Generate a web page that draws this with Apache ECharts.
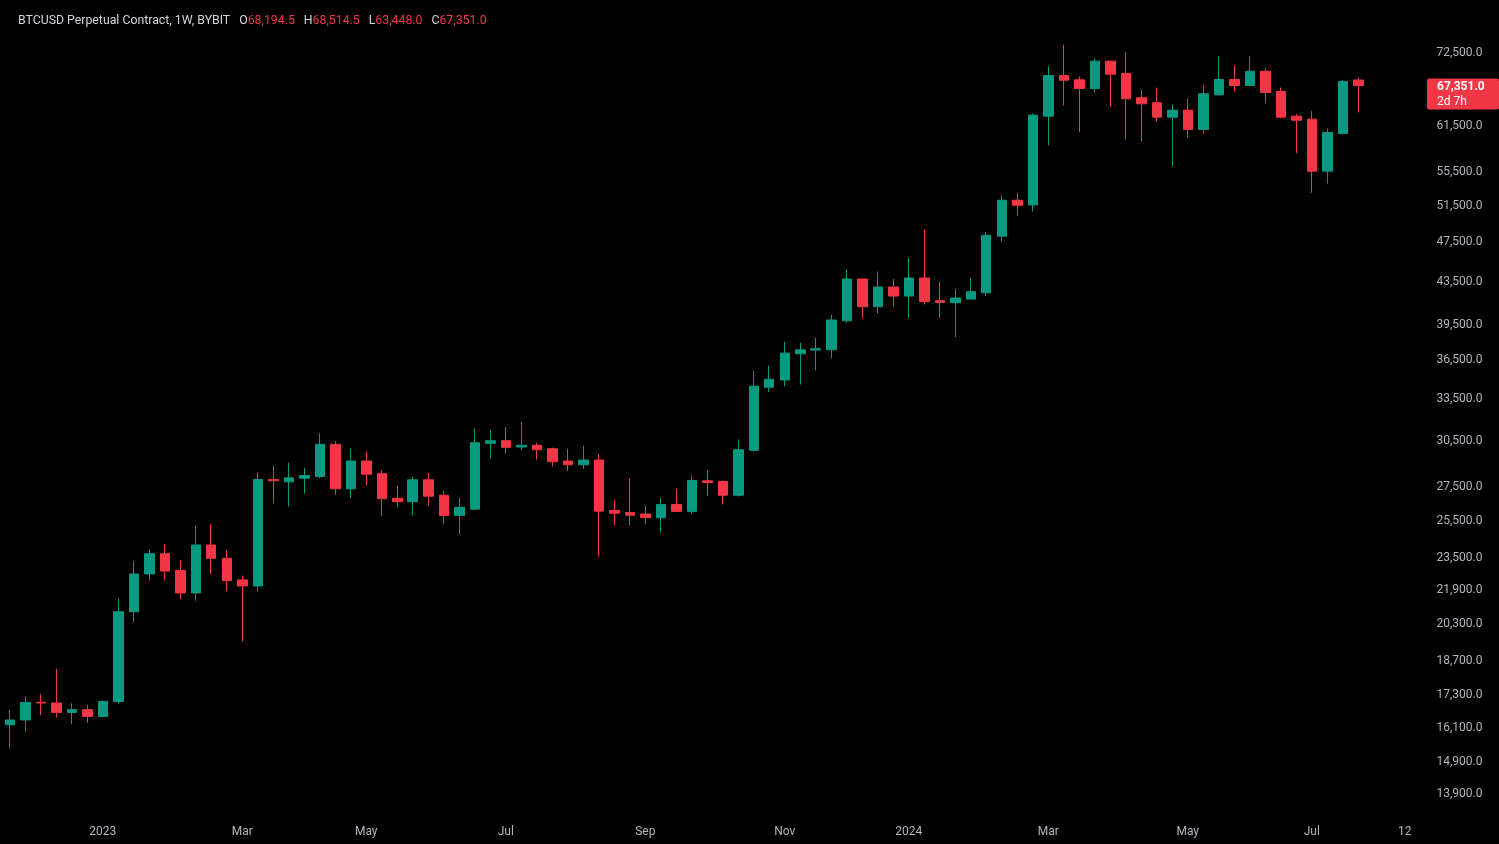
<!DOCTYPE html>
<html><head><meta charset="utf-8">
<script src="https://cdn.jsdelivr.net/npm/echarts@6/dist/echarts.min.js"></script>
<style>html,body{margin:0;padding:0;background:#000;}#c{width:1499px;height:844px;}</style>
</head><body><div id="c"></div>
<script>
const dates = [
'2022-11-21','2022-11-28','2022-12-05','2022-12-12','2022-12-19','2022-12-26',
'2023-01-02','2023-01-09','2023-01-16','2023-01-23','2023-01-30','2023-02-06','2023-02-13','2023-02-20','2023-02-27',
'2023-03-06','2023-03-13','2023-03-20','2023-03-27','2023-04-03','2023-04-10','2023-04-17','2023-04-24',
'2023-05-01','2023-05-08','2023-05-15','2023-05-22','2023-05-29','2023-06-05','2023-06-12','2023-06-19','2023-06-26',
'2023-07-03','2023-07-10','2023-07-17','2023-07-24','2023-07-31','2023-08-07','2023-08-14','2023-08-21','2023-08-28',
'2023-09-04','2023-09-11','2023-09-18','2023-09-25','2023-10-02','2023-10-09','2023-10-16','2023-10-23','2023-10-30',
'2023-11-06','2023-11-13','2023-11-20','2023-11-27','2023-12-04','2023-12-11','2023-12-18','2023-12-25',
'2024-01-01','2024-01-08','2024-01-15','2024-01-22','2024-01-29','2024-02-05','2024-02-12','2024-02-19','2024-02-26',
'2024-03-04','2024-03-11','2024-03-18','2024-03-25','2024-04-01','2024-04-08','2024-04-15','2024-04-22','2024-04-29',
'2024-05-06','2024-05-13','2024-05-20','2024-05-27','2024-06-03','2024-06-10','2024-06-17','2024-06-24',
'2024-07-01','2024-07-08','2024-07-15','2024-07-22'];
const futureDates = ['2024-07-29','2024-08-05','2024-08-12'];

const opens = [
16208,16379,17040,17010,16657,16760,
16510,17070,20850,22680,23726,22860,21740,24190,23485,
22380,22081,27995,27850,28076,28182,30276,27420,
29170,28355,26850,26640,27975,27030,25840,26202,30344,
30520,30095,30210,29980,29170,28930,29235,26127,26010,
25925,25700,26475,26070,27910,27870,27030,29875,34385,
34945,37050,37350,37380,39880,43762,41143,42990,
42130,43860,41700,41515,41850,42445,48145,52160,51615,
62910,68877,68224,66915,71108,69186,65542,64816,62770,
63757,61073,65982,68270,67363,69541,66469,62910,
62491,55654,60531,68194.5];
const highs = [
16759,17262,17350,18357,17000,16937,
17107,21463,23343,23938,24228,23395,25274,25330,23920,
22600,28430,28880,29075,28740,31028,30500,29980,
29780,28570,27600,28180,28400,27300,26860,31376,31260,
31465,31820,30380,30050,29980,30185,29650,26750,28060,
26400,26830,27420,28245,28570,27930,30615,35657,36095,
38053,37970,38380,40395,44690,43790,44500,43762,
45920,48900,43500,42800,43860,48570,52750,52990,63310,
70320,73755,68724,71585,71219,72613,66722,67064,64528,
65396,67513,71969,70477,71969,70007,67064,63191,
63615,61209,68224,68514.5];
const lows = [
15383,15968,16560,16473,16234,16270,
16470,16990,20390,22350,22335,21431,21360,22690,21820,
19515,21803,26550,26340,27120,28076,27055,26850,
27620,25802,26320,25840,26410,25330,24755,26150,29325,
29650,29890,29260,28800,28520,28665,23568,25275,25275,
25330,24870,26030,25915,26970,26475,26950,29800,34005,
34462,34600,35700,36690,39700,40060,40530,41143,
40150,41330,40150,38455,41795,42130,47605,50400,50850,
58934,64427,60706,66321,64241,59727,59462,62171,56277,
59994,60531,65880,66469,67250,64758,62600,57931,
53038,54149,60400,63448];
const closes = [
16379,17032,17010,16657,16760,16510,
17070,20850,22680,23726,22829,21739,24190,23485,22350,
22081,27995,27913,28100,28244,30276,27420,29170,
28330,26820,26640,27975,26970,25840,26310,30385,30520,
30075,30210,29915,29125,28930,29235,26087,25970,25855,
25715,26475,26070,27930,27805,27030,29915,34462,34998,
37099,37380,37465,39942,43762,41143,42990,42130,
43860,41610,41540,41945,42550,48245,52160,51580,63050,
68877,68163,66915,71108,69078,65396,64672,62770,63757,
61073,66130,68270,67363,69541,66321,62770,62352,
55654,60666,67966,67351];

const yTicks = [13900,14900,16100,17300,18700,20300,21900,23500,25500,27500,30500,33500,36500,39500,43500,47500,51500,55500,61500,72500];
const xTickDates = ['2023-01-02','2023-03-06','2023-05-01','2023-07-03','2023-09-04','2023-11-06','2024-01-01','2024-03-04','2024-05-06','2024-07-01','2024-08-12'];
const xTickTexts = ['2023','Mar','May','Jul','Sep','Nov','2024','Mar','May','Jul','12'];
const symbolName = 'BTCUSD Perpetual Contract, 1W, BYBIT';
const timeLeft = '2d 7h';
const yMinPrice = 13357, yMaxPrice = 79440;

const UP = '#089981', DOWN = '#f23645', TXT = '#b2b5be';
const fmt = v => v.toLocaleString('en-US', {minimumFractionDigits: 1, maximumFractionDigits: 1});
const categories = dates.concat(futureDates);
const candleData = dates.map((d, i) => [Math.log(opens[i]), Math.log(closes[i]), Math.log(lows[i]), Math.log(highs[i])]);
const last = dates.length - 1;

const chart = echarts.init(document.getElementById('c'), null, {renderer: 'canvas'});
const FONT = 'Roboto';
const HF = 12.3;
chart.setOption({
  backgroundColor: '#000000',
  animation: false,
  textStyle: {fontFamily: FONT},
  title: {
    left: 18, top: 15, padding: 0,
    text: '{n|' + symbolName + '}{g| }{k|O}{v|' + fmt(opens[last]) + '}{g| }{k|H}{v|' + fmt(highs[last]) +
          '}{g| }{k|L}{v|' + fmt(lows[last]) + '}{g| }{k|C}{v|' + fmt(closes[last]) + '}',
    textStyle: {
      fontSize: HF, fontWeight: 'normal', fontFamily: FONT,
      rich: {
        n: {color: '#d1d4dc', fontSize: HF, fontFamily: FONT},
        k: {color: '#d1d4dc', fontSize: HF, fontFamily: FONT},
        v: {color: DOWN, fontSize: HF, fontFamily: FONT},
        g: {width: 9, fontSize: HF}
      }
    }
  },
  grid: {left: 2, right: 86.5, top: 11.5, bottom: 32.5, outerBoundsMode: 'none', containLabel: false},
  xAxis: {
    type: 'category', data: categories, boundaryGap: true,
    axisLine: {show: false}, axisTick: {show: false}, splitLine: {show: false},
    axisLabel: {
      color: TXT, fontSize: 12, fontFamily: FONT, margin: 14,
      interval: (idx, val) => xTickDates.indexOf(val) >= 0,
      formatter: val => { const k = xTickDates.indexOf(val); return k >= 0 ? xTickTexts[k] : ''; }
    }
  },
  yAxis: {
    type: 'value', position: 'right', scale: true,
    min: Math.log(yMinPrice), max: Math.log(yMaxPrice),
    axisLine: {show: false}, axisTick: {show: false}, splitLine: {show: false},
    axisLabel: {
      color: TXT, fontSize: 12, fontFamily: FONT, margin: 24,
      customValues: yTicks.map(v => Math.log(v)),
      formatter: v => fmt(Math.round(Math.exp(v) / 100) * 100)
    }
  },
  series: [{
    type: 'candlestick',
    data: candleData,
    barWidth: 10,
    itemStyle: {color: UP, color0: DOWN, borderColor: UP, borderColor0: DOWN, borderWidth: 1}
  }]
});

const py = chart.convertToPixel({yAxisIndex: 0}, Math.log(closes[last]));
chart.setOption({
  graphic: [
    {type: 'rect', silent: true, shape: {x: 1427, y: py - 7, width: 72, height: 31, r: 2}, style: {fill: DOWN}},
    {type: 'text', silent: true, style: {x: 1437, y: py + 1, text: fmt(closes[last]), fill: '#ffffff', font: 'bold 12px ' + FONT, verticalAlign: 'middle'}},
    {type: 'text', silent: true, style: {x: 1437, y: py + 16, text: timeLeft, fill: '#ffffff', font: '12px ' + FONT, verticalAlign: 'middle'}}
  ]
});
</script></body></html>
